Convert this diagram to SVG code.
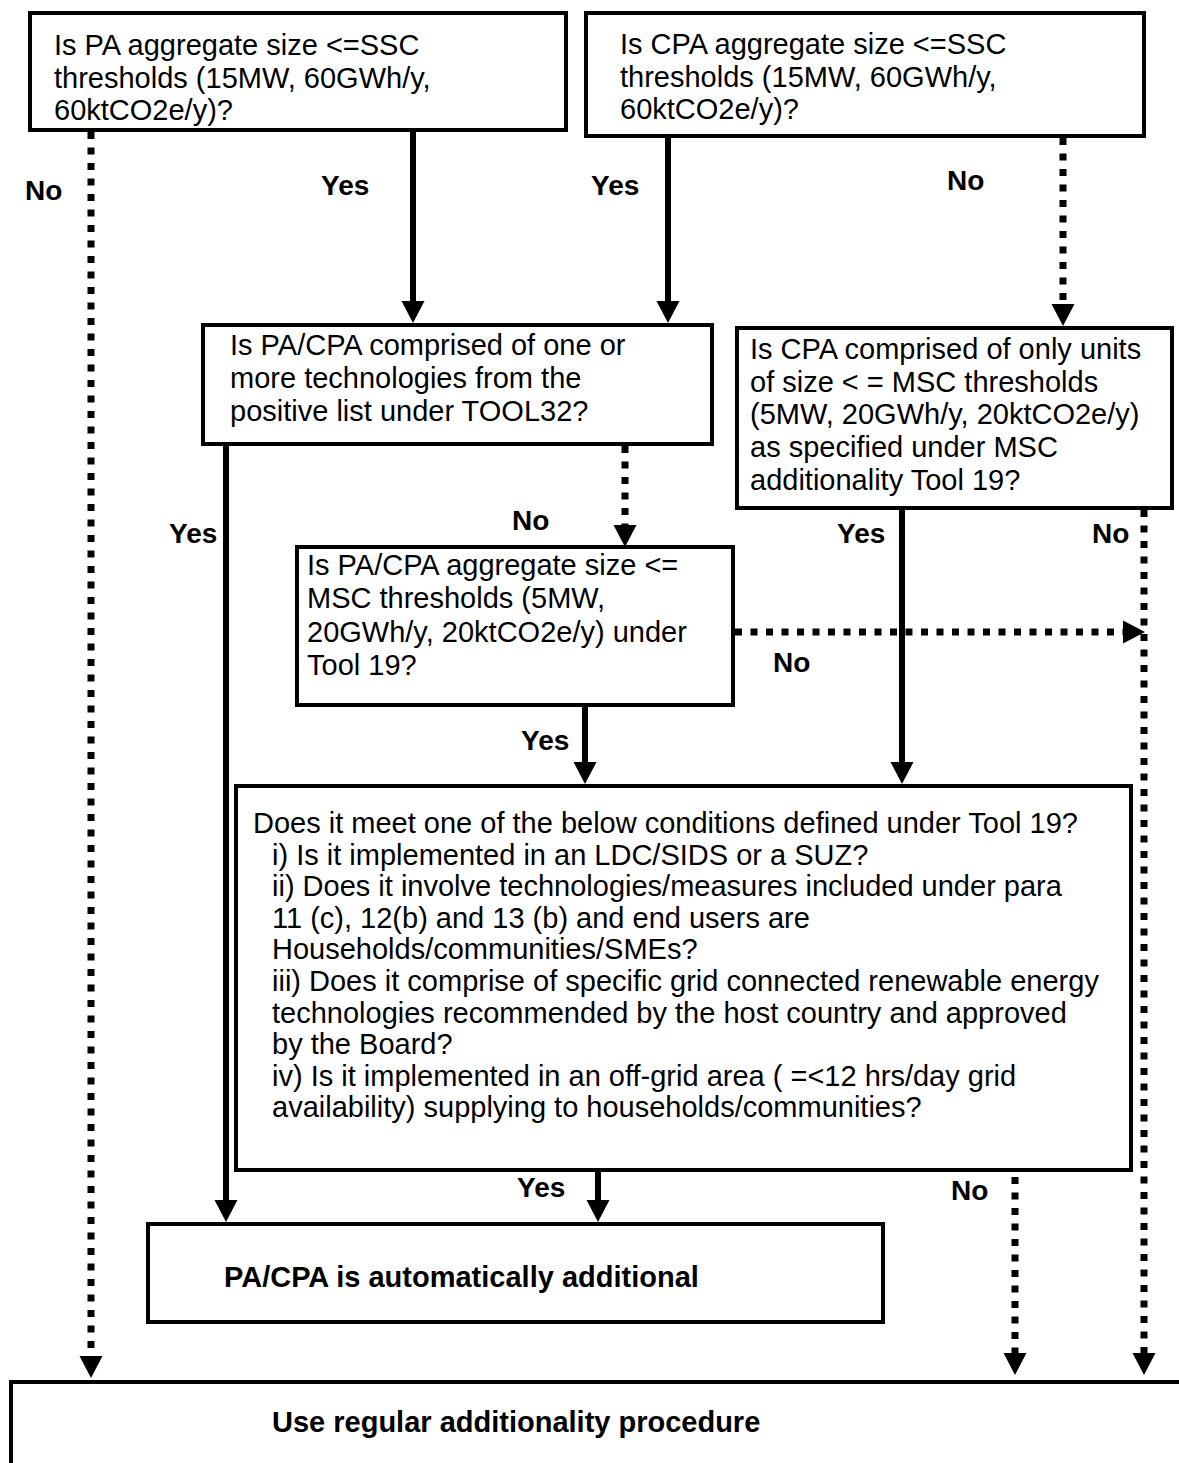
<svg xmlns="http://www.w3.org/2000/svg" width="1179" height="1463" viewBox="0 0 1179 1463">
<style>
.box{fill:#fff;stroke:#000;stroke-width:4}
.t{font-family:"Liberation Sans",Arial,sans-serif;font-size:29px;fill:#000}
.b{font-family:"Liberation Sans",Arial,sans-serif;font-size:29px;font-weight:bold;fill:#000}
.lbl{font-family:"Liberation Sans",Arial,sans-serif;font-size:28px;font-weight:bold;fill:#000}
.solid{fill:none;stroke:#000;stroke-width:6;marker-end:url(#ah)}
.dot{fill:none;stroke:#000;stroke-width:7;stroke-dasharray:7 8.5;marker-end:url(#ah)}
</style>
<defs>
<marker id="ah" viewBox="0 -12 22 24" refX="0" refY="0" markerWidth="22" markerHeight="24" markerUnits="userSpaceOnUse" orient="auto">
<path d="M0,-11.5 L22,0 L0,11.5 Z" fill="#000"/>
</marker>
</defs>
<g id="connectors">
<path class="dot" d="M91,132 V1356"/>
<path class="solid" d="M413,130 V301"/>
<path class="solid" d="M668,136 V301"/>
<path class="dot" d="M1063,138 V304"/>
<path class="solid" d="M226,444 V1200"/>
<path class="dot" d="M625,446 V525"/>
<path class="dot" d="M735,632 H1123"/>
<path class="solid" d="M585,705 V762"/>
<path class="solid" d="M902,508 V762"/>
<path class="dot" d="M1144,510 V1353"/>
<path class="solid" d="M598,1170 V1200"/>
<path class="dot" d="M1015,1177 V1353"/>
<text class="lbl" x="25" y="200">No</text>
<text class="lbl" x="321" y="195">Yes</text>
<text class="lbl" x="591" y="195">Yes</text>
<text class="lbl" x="947" y="190">No</text>
<text class="lbl" x="169" y="543">Yes</text>
<text class="lbl" x="512" y="530">No</text>
<text class="lbl" x="837" y="543">Yes</text>
<text class="lbl" x="1092" y="543">No</text>
<text class="lbl" x="773" y="672">No</text>
<text class="lbl" x="521" y="750">Yes</text>
<text class="lbl" x="517" y="1197">Yes</text>
<text class="lbl" x="951" y="1200">No</text>
</g>
<g id="box1">
<rect class="box" x="30" y="13" width="536" height="117"/>
<text class="t" x="54" y="55">Is PA aggregate size &lt;=SSC</text>
<text class="t" x="54" y="87.5">thresholds (15MW, 60GWh/y,</text>
<text class="t" x="54" y="120">60ktCO2e/y)?</text>
</g>
<g id="box2">
<rect class="box" x="586" y="13" width="558" height="123"/>
<text class="t" x="620" y="54">Is CPA aggregate size &lt;=SSC</text>
<text class="t" x="620" y="86.5">thresholds (15MW, 60GWh/y,</text>
<text class="t" x="620" y="119">60ktCO2e/y)?</text>
</g>
<g id="box3">
<rect class="box" x="203" y="325" width="509" height="119"/>
<text class="t" x="230" y="355">Is PA/CPA comprised of one or</text>
<text class="t" x="230" y="388">more technologies from the</text>
<text class="t" x="230" y="421">positive list under TOOL32?</text>
</g>
<g id="box4">
<rect class="box" x="737" y="328" width="435" height="180"/>
<text class="t" x="750" y="359">Is CPA comprised of only units</text>
<text class="t" x="750" y="392">of size &lt; = MSC thresholds</text>
<text class="t" x="750" y="424">(5MW, 20GWh/y, 20ktCO2e/y)</text>
<text class="t" x="750" y="457">as specified under MSC</text>
<text class="t" x="750" y="490">additionality Tool 19?</text>
</g>
<g id="box5">
<rect class="box" x="297" y="547" width="436" height="158"/>
<text class="t" x="307" y="575">Is PA/CPA aggregate size &lt;=</text>
<text class="t" x="307" y="608">MSC thresholds (5MW,</text>
<text class="t" x="307" y="642">20GWh/y, 20ktCO2e/y) under</text>
<text class="t" x="307" y="675">Tool 19?</text>
</g>
<g id="box6">
<rect class="box" x="236" y="786" width="895" height="384"/>
<text class="t" x="253" y="833">Does it meet one of the below conditions defined under Tool 19?</text>
<text class="t" x="272" y="864.6">i) Is it implemented in an LDC/SIDS or a SUZ?</text>
<text class="t" x="272" y="896.2">ii) Does it involve technologies/measures included under para</text>
<text class="t" x="272" y="927.8">11 (c), 12(b) and 13 (b) and end users are</text>
<text class="t" x="272" y="959.4">Households/communities/SMEs?</text>
<text class="t" x="272" y="991">iii) Does it comprise of specific grid connected renewable energy</text>
<text class="t" x="272" y="1022.6">technologies recommended by the host country and approved</text>
<text class="t" x="272" y="1054.2">by the Board?</text>
<text class="t" x="272" y="1085.8">iv) Is it implemented in an off-grid area ( =&lt;12 hrs/day grid</text>
<text class="t" x="272" y="1117.4">availability) supplying to households/communities?</text>
</g>
<g id="box7">
<rect class="box" x="148" y="1224" width="735" height="98"/>
<text class="b" x="224" y="1287">PA/CPA is automatically additional</text>
</g>
<g id="box8">
<path class="box" d="M11,1475 V1382 H1190 V1475 Z"/>
<text class="b" x="272" y="1432">Use regular additionality procedure</text>
</g>
</svg>
